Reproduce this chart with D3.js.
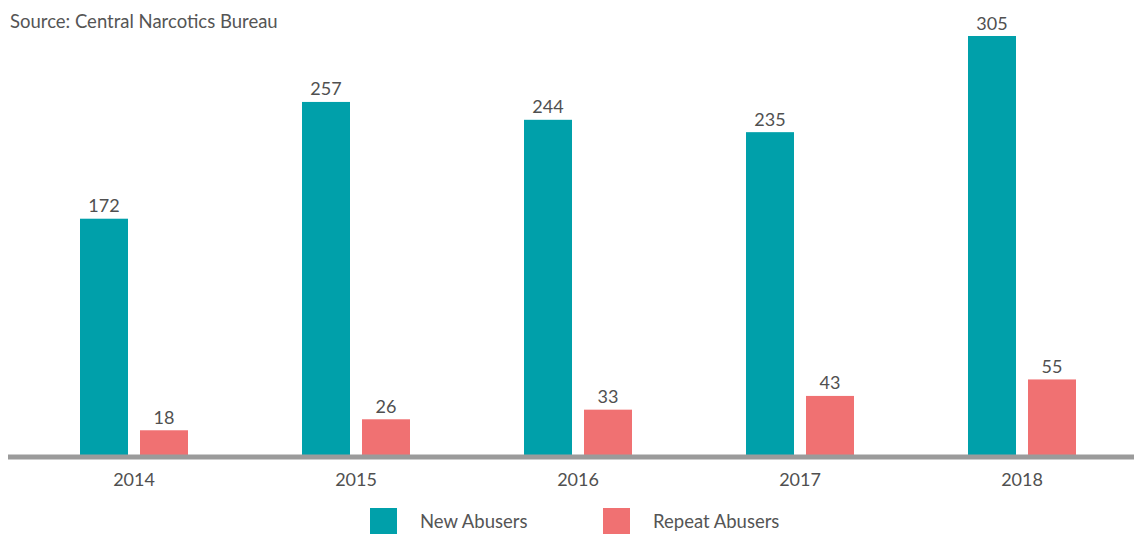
<!DOCTYPE html>
<html>
<head>
<meta charset="utf-8">
<script src="https://cdn.jsdelivr.net/npm/d3@7"></script>
<style>
  body { margin: 0; background: #fff; }
  text { font-family: Lato, "Open Sans", sans-serif; }
</style>
</head>
<body>
<div id="chart"></div>
<script>
// chart data
const years = ["2014", "2015", "2016", "2017", "2018"];
const newAbusers = [172, 257, 244, 235, 305];
const repeatAbusers = [18, 26, 33, 43, 55];
const seriesNames = ["New Abusers", "Repeat Abusers"];
const seriesColors = ["#00a0aa", "#f07172"];

const W = 1134, H = 534;
const baseY = 455;

const svg = d3.select("#chart")
  .append("svg")
  .attr("width", W)
  .attr("height", H);

// x scale for the year groups
const x = d3.scaleBand().domain(years).range([23, 1133]).padding(0);
// inner scale for the two bars in a group
const xInner = d3.scaleBand().domain(seriesNames).range([-54, 54]).paddingInner(0.2);

// y scale
const y = d3.scaleLinear().domain([0, 305]).range([baseY, 36]);

svg.append("text")
  .attr("x", 10)
  .attr("y", 28)
  .attr("font-size", 18.5)
  .attr("fill", "#555")
  .text("Source: Central Narcotics Bureau");

const rows = years.map((yr, i) => ({ year: yr, values: [newAbusers[i], repeatAbusers[i]] }));

const groups = svg.selectAll(".grp")
  .data(rows)
  .enter()
  .append("g")
  .attr("class", "grp")
  .attr("transform", (d) => "translate(" + (x(d.year) + x.bandwidth() / 2) + ",0)");

groups.selectAll("rect")
  .data((d) => d.values.map((v, j) => ({ name: seriesNames[j], v: v, j: j })))
  .enter()
  .append("rect")
  .attr("x", (d) => xInner(d.name))
  .attr("y", (d) => y(d.v))
  .attr("width", xInner.bandwidth())
  .attr("height", (d) => baseY - y(d.v))
  .attr("fill", (d) => seriesColors[d.j]);

groups.selectAll(".lbl")
  .data((d) => d.values.map((v, j) => ({ name: seriesNames[j], v: v })))
  .enter()
  .append("text")
  .attr("class", "lbl")
  .attr("x", (d) => xInner(d.name) + xInner.bandwidth() / 2)
  .attr("y", (d) => y(d.v) - 6.5)
  .attr("text-anchor", "middle")
  .attr("font-size", 18)
  .attr("fill", "#505050")
  .text((d) => d.v);

// baseline axis
const axis = svg.append("g")
  .attr("transform", "translate(0," + (baseY + 2) + ")")
  .call(d3.axisBottom(x).tickSize(0).tickPadding(16));
axis.select(".domain").remove();
axis.append("line")
  .attr("x1", 8).attr("x2", W)
  .attr("y1", 0).attr("y2", 0)
  .attr("stroke", "#9b9b9b")
  .attr("stroke-width", 5);
axis.selectAll(".tick text")
  .attr("font-family", "Lato, 'Open Sans', sans-serif")
  .attr("font-size", 18)
  .attr("fill", "#505050");

// legend
const legendX = [370, 603];
const legend = svg.selectAll(".leg")
  .data(seriesNames)
  .enter()
  .append("g")
  .attr("class", "leg")
  .attr("transform", (d, i) => "translate(" + legendX[i] + ",508)");

legend.append("rect")
  .attr("width", 27)
  .attr("height", 26)
  .attr("fill", (d, i) => seriesColors[i]);

legend.append("text")
  .attr("x", 50)
  .attr("y", 20)
  .attr("font-size", 18.5)
  .attr("fill", "#555")
  .text((d) => d);
</script>
</body>
</html>
